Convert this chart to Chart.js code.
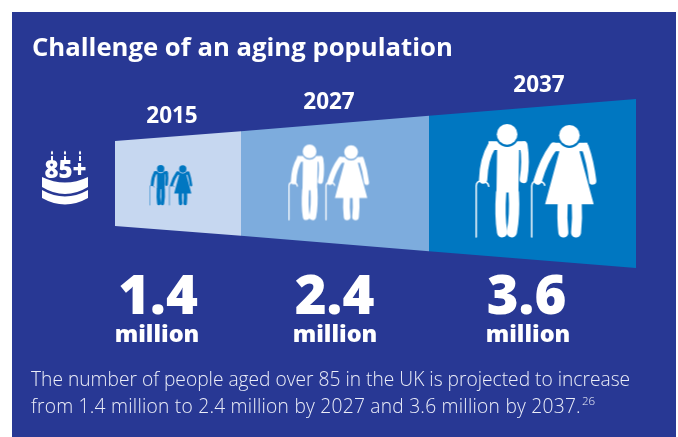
<!DOCTYPE html>
<html>
<head>
<meta charset="utf-8">
<title>Challenge of an aging population</title>
<script src="https://cdn.jsdelivr.net/npm/chart.js@4/dist/chart.umd.min.js"></script>
<style>
    html, body { margin: 0; background: #fff; }
    #panel { position: absolute; left: 12px; top: 12px; width: 664px; height: 425px; background: #283894; }
    canvas { position: absolute; left: 0; top: 0; }
</style>
</head>
<body>
<div id="panel"></div>
<canvas id="agingChart" width="678" height="437"></canvas>
<script>
const years = ['2015', '2027', '2037'];
const millions = [1.4, 2.4, 3.6];
const unitLabel = 'million';
const titleText = 'Challenge of an aging population';
const captionLines = [
    'The number of people aged over 85 in the UK is projected to increase',
    'from 1.4 million to 2.4 million by 2027 and 3.6 million by 2037.'
];
const footnoteMark = '26';

// wedge outline: stops along the x scale, half-height either side of the midline
const wedgeStops = [115, 241, 429, 636];
const wedgeSpread = [42.5, 52.2, 67.7, 84.5];
const bandColors = ['#c6d7f0', '#7dacdd', '#0077c1'];

const INK = '#ffffff';
const BLUE = '#0077c1';

const figureCentres = [171, 329, 536.5];
const figureOffsets = [-2, 1, 2.5];
const figureScales = [0.118, 0.222, 0.333];
const caneWidths = [5, 6, 4.5];

const strokePath = (ctx, width, draw) => {
    ctx.lineWidth = width;
    ctx.beginPath();
    draw();
    ctx.stroke();
};

// one couple with walking sticks, drawn on its own canvas for use as a pointStyle
const makeCouple = (scale, cane, ink, gap) => {
    const w = 364, h = 342;
    const c = document.createElement('canvas');
    c.width = Math.ceil(w * scale) + 2;
    c.height = Math.ceil(h * scale) + 2;
    const ctx = c.getContext('2d');
    ctx.translate(1, 1);
    ctx.scale(scale, scale);
    ctx.translate(-33, -26);
    ctx.fillStyle = ink;
    ctx.strokeStyle = ink;
    ctx.lineCap = 'round';
    ctx.lineJoin = 'round';

    const poly = (pts) => {
        ctx.beginPath();
        pts.forEach(([x, y], i) => (i ? ctx.lineTo(x, y) : ctx.moveTo(x, y)));
        ctx.closePath();
        ctx.fill();
    };
    const head = (x, y) => {
        ctx.fillStyle = gap;
        ctx.beginPath();
        ctx.arc(x, y + 3, 35, 0, Math.PI * 2);
        ctx.fill();
        ctx.fillStyle = ink;
        ctx.beginPath();
        ctx.arc(x, y, 31, 0, Math.PI * 2);
        ctx.fill();
    };

    // man
    strokePath(ctx, cane, () => {
        ctx.moveTo(35, 365);
        ctx.lineTo(35, 212);
        ctx.quadraticCurveTo(36, 197, 50, 197);
        ctx.quadraticCurveTo(70, 197, 73, 213);
    });
    poly([[72, 78], [184, 78], [190, 104], [164, 104], [162, 232], [96, 232], [98, 104], [72, 104]]);
    strokePath(ctx, 25, () => {
        ctx.moveTo(82, 92);
        ctx.quadraticCurveTo(58, 132, 56, 193);
    });
    strokePath(ctx, 23, () => {
        ctx.moveTo(178, 90);
        ctx.quadraticCurveTo(186, 140, 177, 192);
    });
    strokePath(ctx, 31, () => {
        ctx.moveTo(110, 232);
        ctx.quadraticCurveTo(105, 300, 113, 351);
    });
    strokePath(ctx, 31, () => {
        ctx.moveTo(148, 232);
        ctx.quadraticCurveTo(152, 300, 142, 351);
    });
    head(128, 57);

    // woman
    strokePath(ctx, cane, () => {
        ctx.moveTo(202, 365);
        ctx.lineTo(202, 212);
        ctx.quadraticCurveTo(203, 197, 217, 197);
        ctx.quadraticCurveTo(238, 197, 241, 210);
    });
    poly([[262, 82], [370, 82], [362, 108], [345, 108], [388, 267], [242, 267], [285, 108], [268, 108]]);
    strokePath(ctx, 25, () => {
        ctx.moveTo(268, 94);
        ctx.quadraticCurveTo(238, 135, 220, 196);
    });
    strokePath(ctx, 22, () => {
        ctx.moveTo(362, 94);
        ctx.quadraticCurveTo(378, 140, 385, 197);
    });
    strokePath(ctx, 30, () => {
        ctx.moveTo(295, 262);
        ctx.quadraticCurveTo(292, 310, 297, 352);
    });
    strokePath(ctx, 30, () => {
        ctx.moveTo(337, 262);
        ctx.quadraticCurveTo(340, 310, 335, 352);
    });
    head(315, 60);
    return c;
};

const bandDatasets = bandColors.flatMap((color, i) => {
    const xs = [wedgeStops[i], wedgeStops[i + 1]];
    const ys = [wedgeSpread[i], wedgeSpread[i + 1]];
    const line = (sign, fill) => ({
        data: xs.map((x, k) => ({ x, y: sign * ys[k] })),
        showLine: true,
        borderWidth: 0,
        pointRadius: 0,
        backgroundColor: color,
        fill
    });
    return [line(1, '+1'), line(-1, false)];
});

// first in the list so it paints over the bands
const figureDataset = {
    data: figureCentres.map((x, i) => ({ x, y: figureOffsets[i] })),
    showLine: false,
    pointRadius: 10,
    pointStyle: [
        makeCouple(figureScales[0], caneWidths[0], BLUE, bandColors[0]),
        makeCouple(figureScales[1], caneWidths[1], INK, bandColors[1]),
        makeCouple(figureScales[2], caneWidths[2], INK, bandColors[2])
    ]
};

const putText = (ctx, text, x, y, font, align = 'left', color = INK, spacing = '0px') => {
    ctx.font = font;
    ctx.textAlign = align;
    ctx.textBaseline = 'alphabetic';
    ctx.fillStyle = color;
    ctx.letterSpacing = spacing;
    ctx.fillText(text, x, y);
};

const drawCake = (ctx) => {
    ctx.save();
    ctx.fillStyle = INK;
    // upper tier
    ctx.beginPath();
    ctx.moveTo(42, 177);
    ctx.quadraticCurveTo(65, 188, 88, 177);
    ctx.lineTo(88, 187);
    ctx.quadraticCurveTo(65, 201, 42, 187);
    ctx.closePath();
    ctx.fill();
    // lower tier
    ctx.beginPath();
    ctx.moveTo(42, 190);
    ctx.quadraticCurveTo(65, 203, 88, 190);
    ctx.lineTo(88, 198);
    ctx.quadraticCurveTo(65, 211, 42, 198);
    ctx.closePath();
    ctx.fill();
    // candles
    [52, 65, 80].forEach((x) => {
        ctx.fillRect(x - 1, 156, 2, 5);
        ctx.beginPath();
        ctx.moveTo(x, 150.5);
        ctx.quadraticCurveTo(x + 2.2, 153, x, 155);
        ctx.quadraticCurveTo(x - 2.2, 153, x, 150.5);
        ctx.fill();
    });
    ctx.restore();
    putText(ctx, '85+', 65.5, 178, '800 24px "Open Sans"', 'center');
};

// everything that is not a plotted mark: headings, value figures, the cake and the caption
const textLayer = {
    id: 'textLayer',
    afterDraw(chart) {
        const { ctx } = chart;
        const yearSpots = [[172, 123], [329, 109], [539, 92]];
        const valueSpots = [158, 334.5, 526.5];
        const unitSpots = [157, 335, 528];
        ctx.save();
        putText(ctx, titleText, 32, 56, '700 25.7px "Open Sans"');
        years.forEach((year, i) => {
            putText(ctx, year, yearSpots[i][0], yearSpots[i][1], '700 22.5px "Open Sans"', 'center');
        });
        millions.forEach((value, i) => {
            putText(ctx, value.toFixed(1), valueSpots[i], 314, '800 54.5px "Open Sans"', 'center');
            putText(ctx, unitLabel, unitSpots[i], 342, '800 23.5px "Open Sans"', 'center');
        });
        const captionFont = '300 19.2px "Open Sans"';
        const captionColor = '#eceef8';
        putText(ctx, captionLines[0], 31, 386, captionFont, 'left', captionColor);
        putText(ctx, captionLines[1], 31, 413, captionFont, 'left', captionColor, '0.24px');
        const end = 31 + ctx.measureText(captionLines[1]).width;
        ctx.letterSpacing = '0px';
        putText(ctx, footnoteMark, end + 1, 405, '300 11.5px "Open Sans"', 'left', captionColor);
        drawCake(ctx);
        ctx.restore();
    }
};

const agingChart = new Chart(document.getElementById('agingChart'), {
    type: 'scatter',
    data: {
        datasets: [figureDataset, ...bandDatasets]
    },
    options: {
        responsive: false,
        animation: false,
        events: [],
        layout: { padding: 0, autoPadding: false },
        scales: {
            x: { type: 'linear', display: false, min: 0, max: 678 },
            y: { type: 'linear', display: false, min: -253.5, max: 183.5 }
        },
        plugins: {
            legend: { display: false },
            tooltip: { enabled: false },
            title: { display: false }
        }
    },
    plugins: [textLayer]
});
</script>
</body>
</html>
